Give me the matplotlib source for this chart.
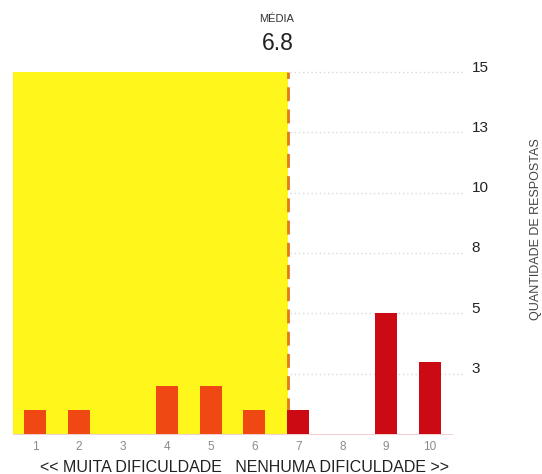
import matplotlib
matplotlib.use("Agg")
import matplotlib.pyplot as plt
import matplotlib.transforms as mtransforms

plt.rcParams["font.family"] = ["Liberation Sans", "DejaVu Sans"]

# dados
notas = [1, 2, 3, 4, 5, 6, 7, 8, 9, 10]
respostas = [1, 1, 0, 2, 2, 1, 1, 0, 5, 3]
media = 6.8
yticks = [15, 12.5, 10, 7.5, 5, 2.5]
ytick_labels = ["15", "13", "10", "8", "5", "3"]

AMARELO = "#fff71c"
LARANJA = "#f04812"
VERMELHO = "#cc0a14"

fig = plt.figure(figsize=(5.42, 4.74), dpi=100)
ax = fig.add_axes([13 / 542, 40 / 474, 439 / 542, 362 / 474])

ax.set_xlim(0.5, 10.5)
ax.set_ylim(0, 15)

# faixa amarela até a média
ax.axvspan(0.5, media - 0.04, color=AMARELO, zorder=0, lw=0)

# grade pontilhada à direita da média
for y in yticks:
    ax.plot([media, 10.75], [y, y], color="#d8d8d8", lw=1, ls=(0, (1, 2)),
            clip_on=False, zorder=1)

cores = [LARANJA if n < media else VERMELHO for n in notas]

# linha da média
ax.axvline(media - 0.04, color="#e0781e", lw=2, ls=(0, (5, 3)), zorder=2)
ax.bar(notas, respostas, width=0.5, color=cores, zorder=3)

ax.set_xticks(notas)
ax.set_xticklabels([str(n) for n in notas], fontsize=8.5, color="#8a8a8a")
ax.tick_params(axis="x", length=0, pad=5)

ax.yaxis.tick_right()
ax.set_yticks(yticks)
ax.set_yticklabels(ytick_labels, fontsize=11, color="#222222")
ax.tick_params(axis="y", length=0, pad=14)
desloc = mtransforms.ScaledTranslation(0, 6 / 100, fig.dpi_scale_trans)
for lbl in ax.get_yticklabels():
    lbl.set_transform(lbl.get_transform() + desloc)

for s in ["top", "left", "right"]:
    ax.spines[s].set_visible(False)
ax.spines["bottom"].set_color("#f0d0d0")
ax.spines["bottom"].set_linewidth(0.8)

fig.text(244 / 542, 1 - 467 / 474,
         "<< MUITA DIFICULDADE   NENHUMA DIFICULDADE >>",
         fontsize=11.5, color="#222222", ha="center", va="center")

fig.text(536 / 542, 1 - 229 / 474, "QUANTIDADE DE RESPOSTAS", rotation=90,
         fontsize=9, color="#444444", ha="center", va="center")

fig.text(294 / 542, 1 - 19 / 474, "MÉDIA", fontsize=8, color="#333333",
         ha="right", va="center")
fig.text(294 / 542, 1 - 43 / 474, f"{media}", fontsize=16.5, color="#222222",
         ha="right", va="center")

fig.savefig("out.png", dpi=100)
